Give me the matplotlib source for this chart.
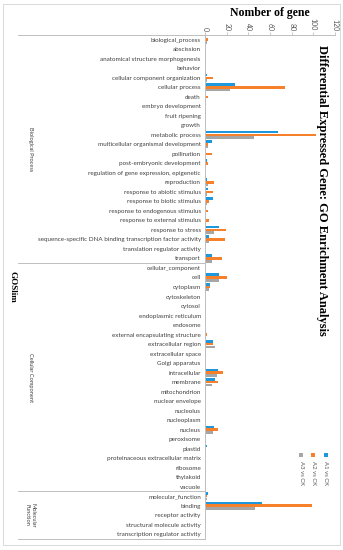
import matplotlib
matplotlib.use("Agg")
import matplotlib.pyplot as plt
import numpy as np
from matplotlib.transforms import blended_transform_factory
from matplotlib.patches import Rectangle
from matplotlib.lines import Line2D

categories = [
    "biological_process", "abscission", "anatomical structure morphogenesis", "behavior",
    "cellular component organization", "cellular process", "death", "embryo development",
    "fruit ripening", "growth", "metabolic process", "multicellular organismal development",
    "pollination", "post-embryonic development", "regulation of gene expression, epigenetic",
    "reproduction", "response to abiotic stimulus", "response to biotic stimulus",
    "response to endogenous stimulus", "response to external stimulus", "response to stress",
    "sequence-specific DNA binding transcription factor activity", "translation regulator activity",
    "transport",
    "cellular_component", "cell", "cytoplasm", "cytoskeleton", "cytosol", "endoplasmic reticulum",
    "endosome", "external encapsulating structure", "extracellular region", "extracellular space",
    "Golgi apparatus", "intracellular", "membrane", "mitochondrion", "nuclear envelope",
    "nucleolus", "nucleoplasm", "nucleus", "peroxisome", "plastid",
    "proteinaceous extracellular matrix", "ribosome", "thylakoid", "vacuole",
    "molecular_function", "binding", "receptor activity", "structural molecule activity",
    "transcription regulator activity",
]
groups = ["Biological Process", "Cellular Component", "Molecular\nFunction"]
group_sizes = [24, 24, 5]

a1 = [1, 0, 1, 0, 2, 28, 0, 1, 1, 1, 67, 6, 0, 2, 0, 2, 3, 7, 1, 1, 13, 4, 0, 6,
      0, 13, 5, 0, 0, 0, 0, 1, 7, 1, 0, 12, 9, 0, 0, 0, 0, 8, 0, 2, 0, 0, 1, 1,
      3, 53, 0, 1, 0]
a2 = [3, 0, 1, 0, 7, 74, 3, 0, 0, 0, 102, 3, 6, 3, 0, 8, 7, 4, 3, 4, 19, 18, 0, 16,
      0, 20, 5, 0, 1, 0, 0, 2, 7, 1, 0, 17, 12, 0, 0, 0, 0, 12, 0, 1, 0, 0, 0, 1,
      2, 99, 0, 0, 0]
a3 = [2, 0, 1, 0, 2, 23, 0, 0, 0, 0, 45, 3, 0, 1, 0, 3, 2, 2, 1, 1, 8, 4, 0, 6,
      0, 13, 4, 0, 0, 0, 0, 1, 9, 1, 0, 11, 6, 0, 0, 1, 0, 7, 0, 1, 0, 0, 0, 1,
      2, 46, 0, 0, 0]
series_names = ["A1 vs CK", "A2 vs CK", "A3 vs CK"]
colors = ["#1F97DC", "#F7802A", "#A6A6A6"]
xticks = [0, 20, 40, 60, 80, 100, 120]

W, H = 343, 550
fig = plt.figure(figsize=(W / 100, H / 100), dpi=100)
fig.patch.set_facecolor("white")

x0, x1 = 205, 335
y0, y1 = 35, 539
ax = fig.add_axes([x0 / W, 1 - y1 / H, (x1 - x0) / W, (y1 - y0) / H])

n = len(categories)
y = np.arange(n)
bh = 0.27
for vals, off, c in zip([a1, a2, a3], [-0.29, 0.0, 0.29], colors):
    ax.barh(y + off, vals, height=bh, color=c, linewidth=0)

ax.set_ylim(n - 0.5, -0.5)
ax.set_xlim(0, 120)
ax.xaxis.tick_top()
ax.set_xticks(xticks)
ax.set_xticklabels([str(t) for t in xticks], rotation=-90, fontsize=5,
                   color="#595959", family="Lato")
ax.tick_params(axis="x", length=2, width=0.6, color="#BFBFBF", pad=1)
ax.set_yticks(y)
ax.set_yticklabels(categories, fontsize=4.5, color="#404040", family="Lato")
ax.tick_params(axis="y", length=0, pad=3)
for s in ["right", "bottom"]:
    ax.spines[s].set_visible(False)
ax.spines["top"].set_color("#BFBFBF")
ax.spines["top"].set_linewidth(0.7)
ax.spines["left"].set_color("#BFBFBF")
ax.spines["left"].set_linewidth(0.7)
ax.patch.set_alpha(0)

# group separator lines and labels
tr = blended_transform_factory(fig.transFigure, ax.transData)
lx0, lx1 = 18 / W, x0 / W
start = 0
bounds = [-0.5]
for g, sz in zip(groups, group_sizes):
    end = start + sz
    bounds.append(end - 0.5)
    fig.text(30 / W, (start + end - 1) / 2, g, transform=tr, rotation=-90,
             ha="center", va="center", fontsize=4.1, color="#404040",
             family="Lato", multialignment="center", linespacing=1.1)
    start = end
for b in bounds:
    fig.add_artist(Line2D([lx0, lx1], [b, b], transform=tr, color="#BFBFBF", lw=0.7))

fig.text(12 / W, (n - 1) / 2, "GOSlim", transform=tr, rotation=-90, ha="center",
         va="center", fontsize=6.5, fontweight="bold", family="Liberation Serif")

fig.text(322 / W, 1 - 190 / H, "Differential Expressed Gene: GO Enrichment Analysis",
         rotation=-90, ha="center", va="center", fontsize=9, fontweight="bold",
         family="Liberation Serif")
fig.text(270 / W, 1 - 13 / H, "Nomber of gene", ha="center", va="center",
         fontsize=8.5, fontweight="bold", family="Liberation Serif")

# legend (rotated)
for name, c, lx in zip(series_names, colors, [326, 313, 301]):
    fig.add_artist(Rectangle(((lx - 2) / W, 1 - 457 / H), 4 / W, 4 / H,
                             transform=fig.transFigure, color=c, lw=0))
    fig.text(lx / W, 1 - 461 / H, name, rotation=-90, ha="center", va="top",
             fontsize=4.3, color="#595959", family="Lato")

# outer border
fig.add_artist(Rectangle((3 / W, 1 - 545 / H), 337 / W, 541 / H,
                         transform=fig.transFigure, fill=False, ec="#D9D9D9", lw=0.7))

fig.savefig("out.png", dpi=100)
